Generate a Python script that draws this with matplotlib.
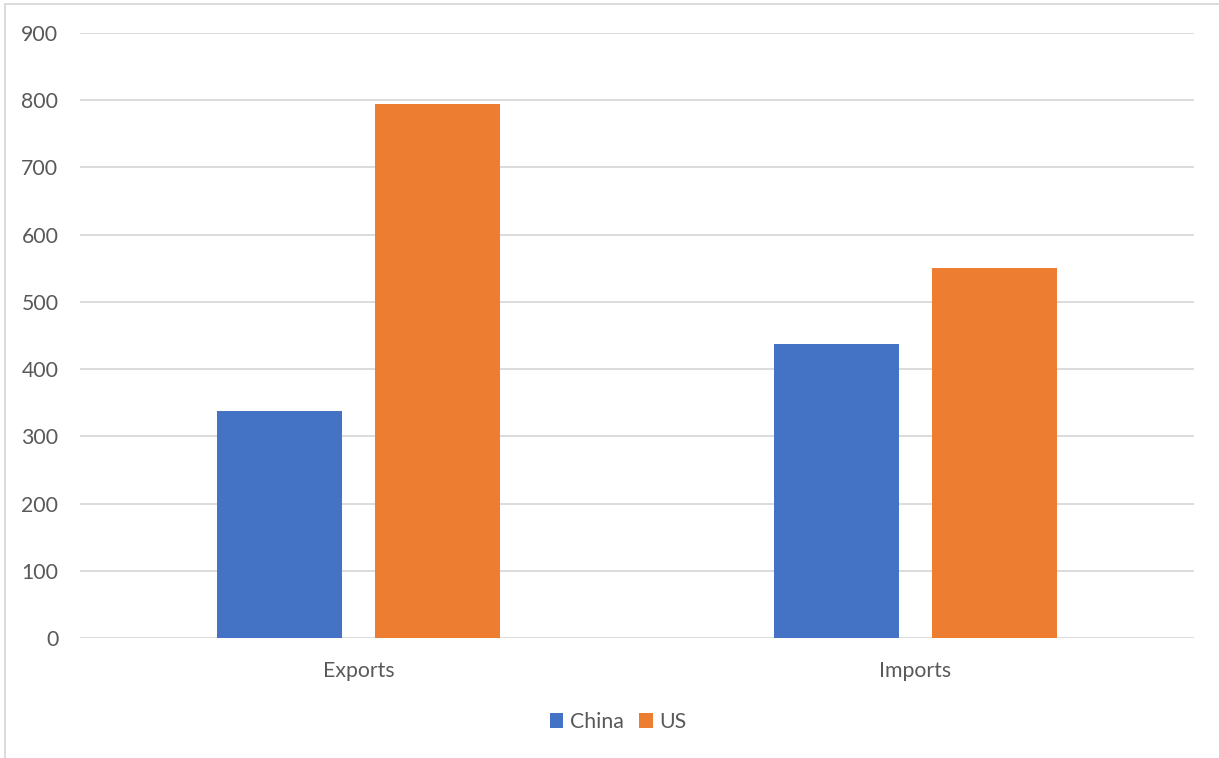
import matplotlib
matplotlib.use("Agg")
import matplotlib.pyplot as plt
from matplotlib.lines import Line2D
from matplotlib.patches import Patch
import numpy as np

categories = ["Exports", "Imports"]
series_names = ["China", "US"]
china_values = [338, 437]
us_values = [795, 550]
y_ticks = [0, 100, 200, 300, 400, 500, 600, 700, 800, 900]

colors = ["#4472C4", "#ED7D31"]
grid_color = "#D9D9D9"
text_color = "#595959"

plt.rcParams["font.family"] = ["Lato", "DejaVu Sans"]

W, H = 1219, 758
fig = plt.figure(figsize=(W / 100, H / 100), dpi=100)
ax = fig.add_axes([80 / W, 1 - 638 / H, (1194 - 80) / W, (638 - 33) / H])

x = np.arange(len(categories))
width = 0.2244
offset = 0.1415
ax.bar(x - offset, china_values, width, color=colors[0], zorder=3)
ax.bar(x + offset, us_values, width, color=colors[1], zorder=3)

ax.set_xlim(-0.5, len(categories) - 0.5)
ax.set_ylim(0, 900)
ax.set_yticks(y_ticks)
ax.set_yticklabels([str(v) for v in y_ticks])
ax.set_xticks(x)
ax.set_xticklabels(categories)
ax.tick_params(axis="both", length=0, labelsize=15.3, labelcolor=text_color)
ax.tick_params(axis="y", pad=15.5)
ax.tick_params(axis="x", pad=16.5)
ax.grid(axis="y", color=grid_color, linewidth=1.3, zorder=0)
for s in ax.spines.values():
    s.set_visible(False)

handles = [Patch(facecolor=c, edgecolor="none") for c in colors]
fig.legend(handles, series_names, loc="center", bbox_to_anchor=(618 / W, 1 - 722 / H),
           ncol=2, frameon=False, fontsize=15.3, labelcolor=text_color,
           handlelength=0.65, handleheight=0.65, handletextpad=0.3, columnspacing=0.72)

# Outer chart frame (left and top edges)
fig.add_artist(Line2D([4.5 / W, 4.5 / W], [0, 1 - 3.5 / H], transform=fig.transFigure,
                      color=grid_color, linewidth=1.3))
fig.add_artist(Line2D([4.5 / W, 1], [1 - 3.5 / H, 1 - 3.5 / H], transform=fig.transFigure,
                      color=grid_color, linewidth=1.3))

fig.savefig("out.png", dpi=100, facecolor="white")
